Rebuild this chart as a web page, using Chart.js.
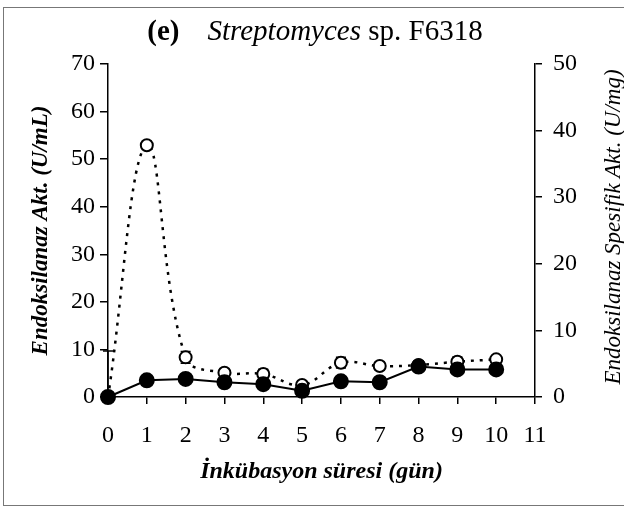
<!DOCTYPE html>
<html>
<head>
<meta charset="utf-8">
<script src="https://cdn.jsdelivr.net/npm/chart.js@4/dist/chart.umd.min.js"></script>
<style>
  body { margin: 0; background: #fff; }
  #wrap { position: relative; width: 624px; height: 513px; }
  #frame { position: absolute; left: 3px; top: 7px; width: 640px; height: 497px;
           border-left: 1px solid #777; border-top: 1px solid #777; border-bottom: 1px solid #777; }
  #title { position: absolute; left: 0; top: 16px; width: 630px; text-align: center;
           font: 29px/29px "Liberation Serif", serif; color: #000; white-space: nowrap; }
  #title i { margin-left: 28px; }
  #y2title { position: absolute; left: 438px; top: 215px; width: 350px; height: 24px; text-align: center;
             font: italic 23px/24px "Liberation Serif", serif; color: #000; transform: rotate(-90deg); }
  canvas { position: absolute; left: 0; top: 0; }
</style>
</head>
<body>
<div id="wrap">
  <div id="frame"></div>
  <canvas id="chart" width="624" height="513"></canvas>
  <div id="title"><b>(e)</b><i>Streptomyces</i> sp. F6318</div>
  <div id="y2title">Endoksilanaz Spesifik Akt. (U/mg)</div>
</div>
<script>
const days = [0, 1, 2, 3, 4, 5, 6, 7, 8, 9, 10];
// U/mL, left axis
const endoAkt = [0, 3.5, 3.8, 3.1, 2.7, 1.3, 3.3, 3.1, 6.4, 5.8, 5.8];
// U/mg, right axis
const spesifikAkt = [0, 37.8, 5.95, 3.65, 3.45, 1.8, 5.15, 4.65, 4.8, 5.3, 5.65];
const spesifikErr = [6.9, 0.6, 0.9, 0.6, 0.7, 0.6, 0.8, 0.6, 0.6, 0.7, 0.4];
const yTicks = [0, 10, 20, 30, 40, 50, 60, 70];
const y2Ticks = [0, 10, 20, 30, 40, 50];

const serif = 'Liberation Serif';

// error bars for the specific activity series, drawn under the markers
const errorBars = {
    id: 'errorBars',
    beforeDatasetsDraw(chart) {
        const {ctx, scales} = chart;
        ctx.save();
        ctx.strokeStyle = '#000';
        ctx.lineWidth = 1.5;
        days.forEach((d, i) => {
            const px = scales.x.getPixelForValue(d);
            const top = scales.y2.getPixelForValue(spesifikAkt[i] + spesifikErr[i]);
            const bot = scales.y2.getPixelForValue(Math.max(0, spesifikAkt[i] - spesifikErr[i]));
            ctx.beginPath();
            ctx.moveTo(px, top); ctx.lineTo(px, bot);
            ctx.moveTo(px - 5, top); ctx.lineTo(px + 5, top);
            ctx.moveTo(px - 5, bot); ctx.lineTo(px + 5, bot);
            ctx.stroke();
        });
        ctx.restore();
    }
};

const ctx = document.getElementById('chart').getContext('2d');
new Chart(ctx, {
    type: 'line',
    data: {
        datasets: [{
            label: 'Endoksilanaz Akt.',
            data: days.map((d, i) => ({x: d, y: endoAkt[i]})),
            yAxisID: 'y',
            borderColor: '#000',
            borderWidth: 2,
            pointRadius: 7,
            pointBackgroundColor: '#000',
            pointBorderColor: '#000',
            tension: 0,
            clip: false,
            order: 0
        }, {
            label: 'Endoksilanaz Spesifik Akt.',
            data: days.map((d, i) => ({x: d, y: spesifikAkt[i]})),
            yAxisID: 'y2',
            borderColor: '#000',
            borderWidth: 2.5,
            borderDash: [3, 6],
            pointRadius: 6,
            pointBorderWidth: 2,
            pointBackgroundColor: '#fff',
            pointBorderColor: '#000',
            tension: 0.4,
            clip: false,
            order: 1
        }]
    },
    options: {
        responsive: false,
        animation: false,
        layout: { padding: { top: 64, left: 0, right: 0, bottom: 0 } },
        plugins: { legend: { display: false }, tooltip: { enabled: false } },
        scales: {
            x: {
                type: 'linear',
                min: 0,
                max: 11,
                afterFit: s => { s.height = 116; },
                border: { display: true, color: '#000', width: 1.5 },
                grid: { drawOnChartArea: false, color: '#000', tickLength: 7, lineWidth: 1.5 },
                ticks: { stepSize: 1, color: '#000', padding: 17, font: { family: serif, size: 24 } },
                title: {
                    display: true,
                    text: 'İnkübasyon süresi (gün)',
                    color: '#000',
                    padding: { top: 0, bottom: 27 },
                    font: { family: serif, size: 24, style: 'italic', weight: 'bold' }
                }
            },
            y: {
                position: 'left',
                min: 0,
                max: 70,
                afterFit: s => { s.width = 108; },
                afterBuildTicks: s => { s.ticks = yTicks.map(v => ({value: v})); },
                border: { display: true, color: '#000', width: 1.5 },
                grid: { drawOnChartArea: false, color: '#000', tickLength: 8, lineWidth: 1.5 },
                ticks: { color: '#000', padding: 5, font: { family: serif, size: 24 } },
                title: {
                    display: true,
                    text: 'Endoksilanaz Akt. (U/mL)',
                    color: '#000',
                    padding: { top: 27, bottom: 0 },
                    font: { family: serif, size: 23, style: 'italic', weight: 'bold' }
                }
            },
            y2: {
                position: 'right',
                min: 0,
                max: 50,
                afterFit: s => { s.width = 89; },
                afterBuildTicks: s => { s.ticks = y2Ticks.map(v => ({value: v})); },
                border: { display: true, color: '#000', width: 1.5 },
                grid: { drawOnChartArea: false, color: '#000', tickLength: 7, lineWidth: 1.5 },
                ticks: { color: '#000', padding: 11, font: { family: serif, size: 24 } }
            }
        }
    },
    plugins: [errorBars]
});
</script>
</body>
</html>
